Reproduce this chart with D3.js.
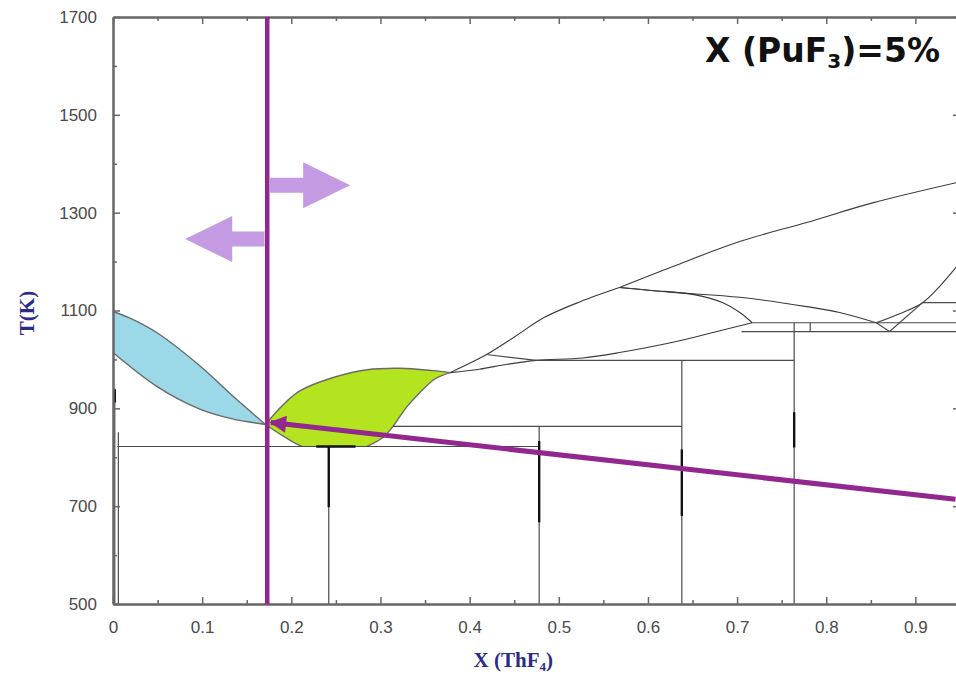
<!DOCTYPE html>
<html>
<head>
<meta charset="utf-8">
<script src="https://cdn.jsdelivr.net/npm/d3@7"></script>
<style>
  body { margin: 0; background: #fff; }
  svg { display: block; }
</style>
</head>
<body>
<div id="chart"></div>
<script>
// ticks
const xTicks = [0, 0.1, 0.2, 0.3, 0.4, 0.5, 0.6, 0.7, 0.8, 0.9];
const xTickLabels = ["0", "0.1", "0.2", "0.3", "0.4", "0.5", "0.6", "0.7", "0.8", "0.9"];
const xMinorTicks = [0.05, 0.15, 0.25, 0.35, 0.45, 0.55, 0.65, 0.75, 0.85];
const yTicks = [500, 700, 900, 1100, 1300, 1500, 1700];
const yMinorTicks = [600, 800, 1000, 1200, 1400, 1600];

// phase boundaries, [X(ThF4), T(K)]
const blueUpper = [[0, 1098], [0.022, 1082], [0.049, 1055], [0.098, 986], [0.135, 924], [0.171, 867]];
const blueLower = [[0, 1014], [0.049, 945], [0.098, 898], [0.135, 878], [0.157, 871], [0.171, 867]];
const greenTop = [[0.171, 867], [0.190, 906], [0.210, 936], [0.247, 963], [0.285, 979], [0.322, 982], [0.359, 977], [0.378, 973]];
const greenRight = [[0.378, 973], [0.361, 960], [0.343, 930], [0.330, 904], [0.322, 884], [0.314, 863], [0.303, 841], [0.285, 822]];
const greenLeft = [[0.171, 867], [0.191, 843], [0.202, 831], [0.212, 822]];
const liquidus1 = [[0.378, 973], [0.419, 1010], [0.451, 1047], [0.484, 1086], [0.524, 1118], [0.568, 1147]];
const liquidus2 = [[0.568, 1147], [0.628, 1190], [0.703, 1241], [0.778, 1280], [0.852, 1320], [0.95, 1363]];
const solvusA = [[0.378, 973], [0.411, 980], [0.442, 990], [0.475, 998], [0.527, 1003], [0.568, 1014], [0.628, 1035], [0.673, 1055], [0.717, 1075]];
const lensC = [[0.568, 1147], [0.605, 1141], [0.650, 1133], [0.684, 1116], [0.703, 1096], [0.717, 1075]];
const lensD = [[0.568, 1147], [0.628, 1137], [0.703, 1127], [0.778, 1108], [0.815, 1096], [0.856, 1075]];
const liquidusRight = [[0.856, 1075], [0.883, 1094], [0.908, 1116], [0.927, 1149], [0.95, 1198]];

// straight lines (invariants, tie lines, compound lines)
const straightLines = [
  [[0.005, 822], [0.478, 822]],
  [[0.314, 863], [0.638, 863]],
  [[0.419, 1010], [0.475, 998]],
  [[0.475, 998], [0.764, 998]],
  [[0.705, 1057], [0.95, 1057]],
  [[0.717, 1075], [0.95, 1075]],
  [[0.908, 1116], [0.95, 1116]],
  [[0.856, 1075], [0.871, 1057]],
  [[0.871, 1057], [0.908, 1116]],
  [[0.002, 940], [0.002, 500]],
  [[0.006, 851], [0.006, 500]],
  [[0.242, 822], [0.242, 500]],
  [[0.478, 863], [0.478, 500]],
  [[0.638, 998], [0.638, 500]],
  [[0.764, 1075], [0.764, 500]],
  [[0.782, 1075], [0.782, 1057]]
];
const thickMarks = [
  [[0.002, 939], [0.002, 912]],
  [[0.242, 822], [0.242, 698]],
  [[0.478, 833], [0.478, 667]],
  [[0.638, 816], [0.638, 680]],
  [[0.764, 892], [0.764, 820]],
  [[0.228, 822], [0.272, 822]]
];

// annotations
const isoplethX = 0.173;
const pointerFrom = [0.945, 714];
const pointerTo = [0.177, 871];
const sideArrows = [
  { from: [0.176, 1356], to: [0.266, 1356] },
  { from: [0.170, 1246], to: [0.081, 1246] }
];

const margin = { top: 17, right: -4, bottom: 70, left: 113 };
const width = 956 - margin.left - margin.right;
const height = 674 - margin.top - margin.bottom;

const svg = d3.select("#chart")
  .append("svg")
  .attr("width", 956)
  .attr("height", 674)
  .append("g")
  .attr("transform", `translate(${margin.left}, ${margin.top})`);

const xScale = d3.scaleLinear().domain([0, 0.95]).range([0, width]);
const yScale = d3.scaleLinear().domain([500, 1700]).range([height, 0]);

const line = d3.line().x(d => xScale(d[0])).y(d => yScale(d[1]));
const curve = d3.line().x(d => xScale(d[0])).y(d => yScale(d[1]))
  .curve(d3.curveCatmullRom.alpha(0.5));

// join several boundary pieces into one closed region
function region(parts) {
  return parts.map((p, i) => {
    const s = curve(p);
    return i === 0 ? s : "L" + s.slice(1);
  }).join("") + "Z";
}

svg.append("path")
  .attr("d", region([blueUpper, blueLower.slice().reverse()]))
  .attr("fill", "#9bd8e8");

svg.append("path")
  .attr("d", region([greenTop, greenRight, greenLeft.slice().reverse()]))
  .attr("fill", "#b4e41f");

// boundaries
[blueUpper, blueLower, greenTop, greenRight, greenLeft].forEach(c => {
  svg.append("path")
    .attr("d", curve(c))
    .attr("fill", "none")
    .attr("stroke", "#6a6a6a")
    .attr("stroke-width", 1.4);
});

[liquidus1, liquidus2, solvusA, lensC, lensD, liquidusRight].forEach(c => {
  svg.append("path")
    .attr("d", curve(c))
    .attr("fill", "none")
    .attr("stroke", "#3a3a3a")
    .attr("stroke-width", 1.1);
});

svg.append("g")
  .selectAll("path")
  .data(straightLines)
  .join("path")
  .attr("d", d => line(d))
  .attr("fill", "none")
  .attr("stroke", "#4a4a4a")
  .attr("stroke-width", 1.2);

svg.append("g")
  .selectAll("path")
  .data(thickMarks)
  .join("path")
  .attr("d", d => line(d))
  .attr("fill", "none")
  .attr("stroke", "#111")
  .attr("stroke-width", 2.4);

// axes
function styleAxis(g, labels) {
  g.attr("font-family", "'Liberation Sans', Arial, sans-serif")
    .attr("font-size", 17);
  g.select(".domain").attr("stroke", "#666").attr("stroke-width", 2);
  g.selectAll(".tick line").attr("stroke", "#666").attr("stroke-width", 1.5);
  g.selectAll(".tick text").attr("fill", "#4a4a4a");
  if (!labels) g.selectAll(".tick text").remove();
}

svg.append("g")
  .attr("transform", `translate(0, ${height})`)
  .call(d3.axisBottom(xScale).tickValues(xTicks).tickSize(-7).tickSizeOuter(0)
    .tickPadding(17).tickFormat((d, i) => xTickLabels[i]))
  .call(g => styleAxis(g, true));

svg.append("g")
  .attr("transform", `translate(0, ${height})`)
  .call(d3.axisBottom(xScale).tickValues(xMinorTicks).tickSize(-4).tickSizeOuter(0))
  .call(g => styleAxis(g, false));

svg.append("g")
  .call(d3.axisTop(xScale).tickValues(xTicks).tickSize(-7).tickSizeOuter(0))
  .call(g => styleAxis(g, false));

svg.append("g")
  .call(d3.axisTop(xScale).tickValues(xMinorTicks).tickSize(-4).tickSizeOuter(0))
  .call(g => styleAxis(g, false));

svg.append("g")
  .call(d3.axisLeft(yScale).tickValues(yTicks).tickSize(-7).tickSizeOuter(0)
    .tickPadding(16).tickFormat(d3.format("d")))
  .call(g => styleAxis(g, true));

svg.append("g")
  .call(d3.axisLeft(yScale).tickValues(yMinorTicks).tickSize(-4).tickSizeOuter(0))
  .call(g => styleAxis(g, false));

svg.append("g")
  .attr("transform", `translate(${width}, 0)`)
  .call(d3.axisRight(yScale).tickValues(yTicks).tickSize(-7).tickSizeOuter(0))
  .call(g => styleAxis(g, false));

// axis titles
svg.append("text")
  .attr("transform", `translate(${34 - margin.left}, ${313 - margin.top}) rotate(-90)`)
  .attr("text-anchor", "middle")
  .attr("font-family", "'Liberation Serif', 'Times New Roman', serif")
  .attr("font-weight", "bold")
  .attr("font-size", 21)
  .attr("fill", "#2b2b8c")
  .text("T(K)");

const xTitle = svg.append("text")
  .attr("x", xScale(0.449))
  .attr("y", height + 63)
  .attr("text-anchor", "middle")
  .attr("font-family", "'Liberation Serif', 'Times New Roman', serif")
  .attr("font-weight", "bold")
  .attr("font-size", 21)
  .attr("fill", "#2b2b8c");
xTitle.append("tspan").text("X (ThF");
xTitle.append("tspan").attr("font-size", 13).attr("dy", 4).text("4");
xTitle.append("tspan").attr("dy", -4).text(")");

// isopleth marker
svg.append("line")
  .attr("x1", xScale(isoplethX)).attr("x2", xScale(isoplethX))
  .attr("y1", 0).attr("y2", height)
  .attr("stroke", "#92278f")
  .attr("stroke-width", 4.5);

// light arrows either side of the isopleth
const shaftHalf = 7.5, headHalf = 23, headLen = 47;
sideArrows.forEach(a => {
  const x0 = xScale(a.from[0]), x1 = xScale(a.to[0]), yc = yScale(a.from[1]);
  const dir = Math.sign(x1 - x0);
  const xb = x1 - dir * headLen;
  const pts = [
    [x0, yc - shaftHalf], [xb, yc - shaftHalf], [xb, yc - headHalf], [x1, yc],
    [xb, yc + headHalf], [xb, yc + shaftHalf], [x0, yc + shaftHalf]
  ];
  svg.append("path")
    .attr("d", "M" + pts.join("L") + "Z")
    .attr("fill", "#c49ae3");
});

// pointer arrow to the eutectic
svg.append("defs").append("marker")
  .attr("id", "head")
  .attr("viewBox", "0 0 10 10")
  .attr("refX", 9).attr("refY", 5)
  .attr("markerWidth", 4).attr("markerHeight", 3.4)
  .attr("orient", "auto")
  .attr("markerUnits", "strokeWidth")
  .append("path")
  .attr("d", "M0,0L10,5L0,10Z")
  .attr("fill", "#92278f");

svg.append("line")
  .attr("x1", xScale(pointerFrom[0])).attr("y1", yScale(pointerFrom[1]))
  .attr("x2", xScale(pointerTo[0])).attr("y2", yScale(pointerTo[1]))
  .attr("stroke", "#92278f")
  .attr("stroke-width", 5)
  .attr("marker-end", "url(#head)");

// composition label
const note = svg.append("text")
  .attr("x", 940 - margin.left)
  .attr("y", 62 - margin.top)
  .attr("text-anchor", "end")
  .attr("font-family", "'DejaVu Sans', Verdana, sans-serif")
  .attr("font-weight", "bold")
  .attr("font-size", 33)
  .attr("fill", "#111");
note.append("tspan").text("X (PuF");
note.append("tspan").attr("font-size", 20).attr("dy", 6).text("3");
note.append("tspan").attr("dy", -6).text(")=5%");
</script>
</body>
</html>
